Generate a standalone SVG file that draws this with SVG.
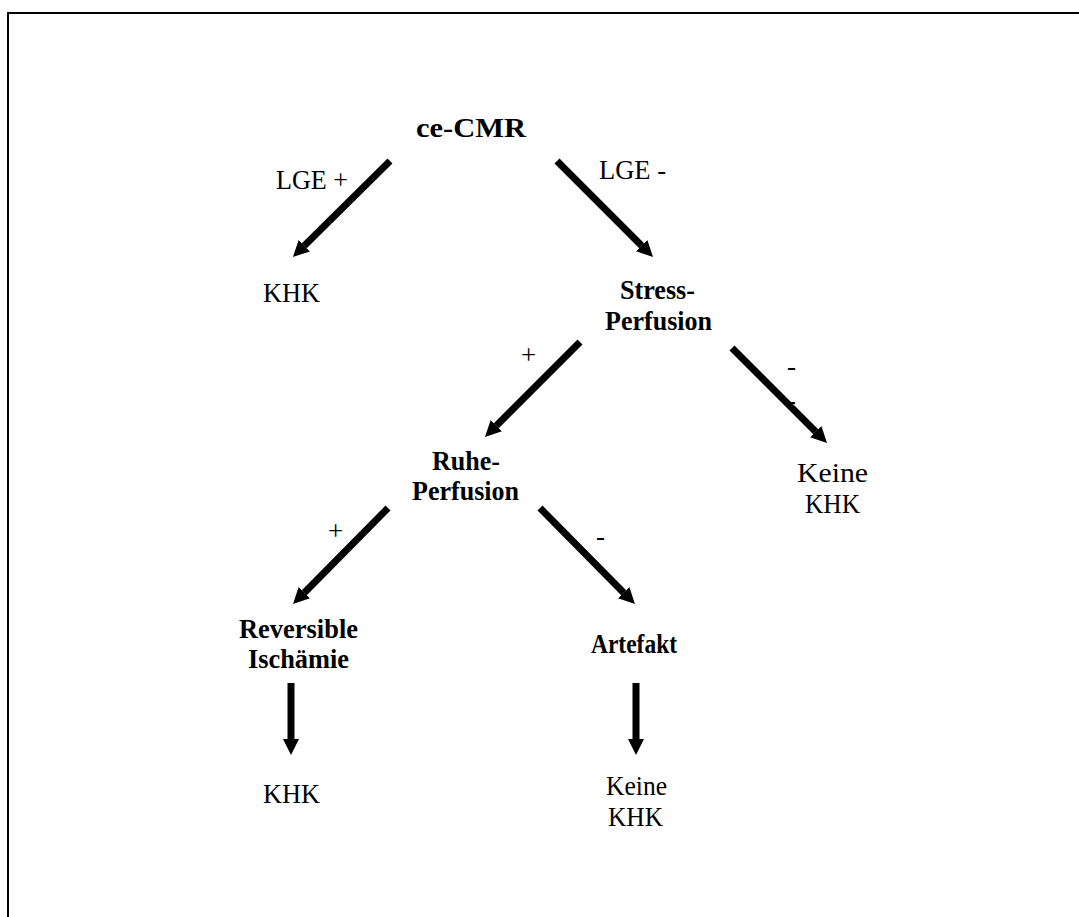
<svg xmlns="http://www.w3.org/2000/svg" width="1079" height="917" viewBox="0 0 1079 917">
<style>
text{font-family:"Liberation Serif","Times New Roman",serif;font-size:27px;fill:#000}
.b{font-weight:bold}
.c{stroke:#000;stroke-width:7;fill:none;marker-end:url(#ah)}
</style>
<defs>
<marker id="ah" viewBox="0 0 16 16" refX="0" refY="8" markerWidth="16" markerHeight="16" markerUnits="userSpaceOnUse" orient="auto">
<path d="M0,0 L16,8 L0,16 z" fill="#000"/>
</marker>
</defs>
<rect width="1079" height="917" fill="#fff"/>
<path d="M8,917 V13 H1079" fill="none" stroke="#000" stroke-width="2"/>
<g id="connectors">
<path class="c" d="M390,161 L304.3,245.7"/>
<path class="c" d="M557,161 L641.7,245.7"/>
<path class="c" d="M580,342 L496.3,425.7"/>
<path class="c" d="M732,348 L815.7,431.7"/>
<path class="c" d="M388,508 L304.3,592.7"/>
<path class="c" d="M540,508 L623.7,592.7"/>
<path class="c" d="M291,683 V739"/>
<path class="c" d="M636,683 V739"/>
</g>
<g id="labels">
<text x="276" y="189" textLength="72" lengthAdjust="spacingAndGlyphs">LGE +</text>
<text x="599" y="179" textLength="67" lengthAdjust="spacingAndGlyphs">LGE -</text>
<text x="521" y="364">+</text>
<text x="787" y="375">-</text>
<text x="787" y="409">-</text>
<text x="328" y="540">+</text>
<text x="596" y="545">-</text>
</g>
<g id="n-cecmr"><text class="b" x="416" y="137" textLength="110" lengthAdjust="spacingAndGlyphs">ce-CMR</text></g>
<g id="n-khk1"><text x="263" y="302" textLength="57" lengthAdjust="spacingAndGlyphs">KHK</text></g>
<g id="n-stress">
<text class="b" x="620" y="299" textLength="75" lengthAdjust="spacingAndGlyphs">Stress-</text>
<text class="b" x="605" y="330" textLength="107" lengthAdjust="spacingAndGlyphs">Perfusion</text>
</g>
<g id="n-keine1">
<text x="797" y="482" textLength="71" lengthAdjust="spacingAndGlyphs">Keine</text>
<text x="805" y="513" textLength="55" lengthAdjust="spacingAndGlyphs">KHK</text>
</g>
<g id="n-ruhe">
<text class="b" x="432" y="470" textLength="68" lengthAdjust="spacingAndGlyphs">Ruhe-</text>
<text class="b" x="412" y="500" textLength="107" lengthAdjust="spacingAndGlyphs">Perfusion</text>
</g>
<g id="n-reversible">
<text class="b" x="239" y="638" textLength="119" lengthAdjust="spacingAndGlyphs">Reversible</text>
<text class="b" x="248" y="668" textLength="101" lengthAdjust="spacingAndGlyphs">Ischämie</text>
</g>
<g id="n-artefakt"><text class="b" x="591" y="653" textLength="86" lengthAdjust="spacingAndGlyphs">Artefakt</text></g>
<g id="n-khk2"><text x="263" y="803" textLength="57" lengthAdjust="spacingAndGlyphs">KHK</text></g>
<g id="n-keine2">
<text x="606" y="795" textLength="61" lengthAdjust="spacingAndGlyphs">Keine</text>
<text x="608" y="826" textLength="55" lengthAdjust="spacingAndGlyphs">KHK</text>
</g>
</svg>
